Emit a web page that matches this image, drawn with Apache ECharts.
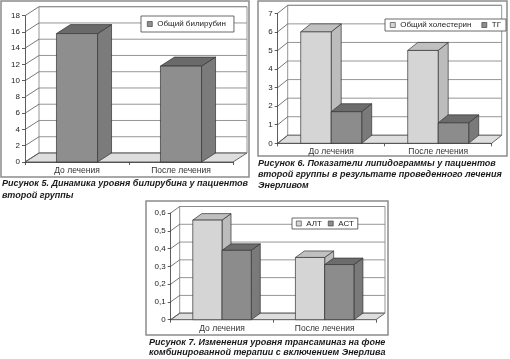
<!DOCTYPE html>
<html><head><meta charset="utf-8">
<script src="https://cdn.jsdelivr.net/npm/echarts@6/dist/echarts.min.js"></script>
<style>html,body{margin:0;padding:0;background:#fff}#c{width:510px;height:359px}</style>
</head><body><div id="c"></div>
<script>
// ---------- DATA ----------
const categories = ['До лечения', 'После лечения'];
// Figure 5
const bilirubinName = 'Общий билирубин';
const bilirubin = [15.8, 11.8];
const ticks1 = [0, 2, 4, 6, 8, 10, 12, 14, 16, 18];
// Figure 6
const cholName = 'Общий холестерин';
const chol = [6.0, 5.0];
const tgName = 'ТГ';
const tg = [1.7, 1.1];
const ticks2 = [0, 1, 2, 3, 4, 5, 6, 7];
// Figure 7
const altName = 'АЛТ';
const alt = [0.56, 0.35];
const astName = 'АСТ';
const ast = [0.39, 0.31];
const ticks3 = [0, 0.1, 0.2, 0.3, 0.4, 0.5, 0.6];
const captions = [
  'Рисунок 5. Динамика уровня билирубина у пациентов\nвторой группы',
  'Рисунок 6. Показатели липидограммы у пациентов\nвторой группы в результате проведенного лечения\nЭнерливом',
  'Рисунок 7. Изменения уровня трансаминаз на фоне\nкомбинированной терапии с включением Энерлива'
];

// ---------- STYLE ----------
const FONT = 'Liberation Sans, Arial, sans-serif';
const LIGHT = {front: '#d5d5d5', top: '#c0c0c0', side: '#bcbcbc'};
const DARK = {front: '#8c8c8c', top: '#6c6c6c', side: '#7a7a7a'};
const MID = {front: '#8e8e8e', top: '#6a6a6a', side: '#7b7b7b'};
const depths = [[14, -9], [10, -8], [9, -6.5]];

function barRender(depth, nSeries, sIdx, widthFrac, colors) {
  return function (params, api) {
    const cat = api.value(0), v = api.value(1);
    const base = api.coord([cat, 0]);
    const top = api.coord([cat, v]);
    const band = api.size([1, 0])[0];
    const w = band * widthFrac;
    const x0 = base[0] - w * nSeries / 2 + w * sIdx;
    const x1 = x0 + w;
    const yb = base[1], yt = top[1];
    const dx = depth[0], dy = depth[1];
    const st = {stroke: '#333', lineWidth: 0.7};
    return {type: 'group', children: [
      {type: 'polygon', shape: {points: [[x1, yb], [x1 + dx, yb + dy], [x1 + dx, yt + dy], [x1, yt]]}, style: Object.assign({fill: colors.side}, st)},
      {type: 'polygon', shape: {points: [[x0, yt], [x1, yt], [x1 + dx, yt + dy], [x0 + dx, yt + dy]]}, style: Object.assign({fill: colors.top}, st)},
      {type: 'rect', shape: {x: x0, y: yt, width: w, height: yb - yt}, style: Object.assign({fill: colors.front}, st)}
    ]};
  };
}

function wallRender(depth) {
  return function (params, api) {
    const cs = params.coordSys;
    const dx = depth[0], dy = depth[1];
    const v = api.value(1);
    const y = api.coord([0, v])[1];
    const xl = cs.x, xr = cs.x + cs.width, yt = cs.y, yb = cs.y + cs.height;
    const children = [];
    const grey = {stroke: '#8a8a8a', lineWidth: 0.9};
    if (params.dataIndex === 0) {
      children.push({type: 'rect', shape: {x: xl + dx, y: yt + dy, width: cs.width, height: cs.height}, style: {fill: '#fff', stroke: '#8a8a8a', lineWidth: 0.9}});
      children.push({type: 'polygon', shape: {points: [[xl, yb], [xr, yb], [xr + dx, yb + dy], [xl + dx, yb + dy]]}, style: {fill: '#dedede', stroke: '#444', lineWidth: 0.8}});
    }
    children.push({type: 'line', shape: {x1: xl + dx, y1: y + dy, x2: xr + dx, y2: y + dy}, style: grey});
    children.push({type: 'line', shape: {x1: xl, y1: y, x2: xl + dx, y2: y + dy}, style: {stroke: '#555', lineWidth: 0.8}});
    return {type: 'group', children: children};
  };
}

const grids = [
  {left: 25, top: 15.7, width: 208, height: 146.3},
  {left: 277.7, top: 13.3, width: 214, height: 130},
  {left: 170.7, top: 213, width: 205.3, height: 106.7}
];
const yMax = [18, 7, 0.6];
const yInt = [2, 1, 0.1];
const tickSets = [ticks1, ticks2, ticks3];

const xAxes = grids.map((g, i) => ({
  type: 'category', gridIndex: i, data: categories,
  axisLine: {lineStyle: {color: '#333', width: 0.8}},
  axisTick: {show: true, length: 3, lineStyle: {color: '#333', width: 0.8}},
  axisLabel: {fontSize: 8.5, color: '#333', fontFamily: FONT, margin: 4}
}));
const yAxes = grids.map((g, i) => ({
  type: 'value', gridIndex: i, min: 0, max: yMax[i], interval: yInt[i],
  axisLine: {show: true, lineStyle: {color: '#333', width: 0.8}},
  axisTick: {show: true, length: 3, lineStyle: {color: '#333', width: 0.8}},
  splitLine: {show: false},
  axisLabel: {fontSize: 8, color: '#222', fontFamily: FONT, margin: 5,
    formatter: i === 2 ? (v => v === 0 ? '0' : v.toFixed(1).replace('.', ',')) : (v => String(v))}
}));

const series = [];
tickSets.forEach((t, i) => {
  series.push({type: 'custom', xAxisIndex: i, yAxisIndex: i, z: 1, silent: true,
    renderItem: wallRender(depths[i]), data: t.map(v => [0, v])});
});
function barSeries(name, data, gi, n, idx, frac, colors) {
  return {type: 'custom', name: name, xAxisIndex: gi, yAxisIndex: gi, z: 3,
    itemStyle: {color: colors.front},
    renderItem: barRender(depths[gi], n, idx, frac, colors),
    data: data.map((v, k) => [k, v])};
}
series.push(barSeries(bilirubinName, bilirubin, 0, 1, 0, 0.395, MID));
series.push(barSeries(cholName, chol, 1, 2, 0, 0.285, LIGHT));
series.push(barSeries(tgName, tg, 1, 2, 1, 0.285, DARK));
series.push(barSeries(altName, alt, 2, 2, 0, 0.285, LIGHT));
series.push(barSeries(astName, ast, 2, 2, 1, 0.285, DARK));

function legendItem(name, colors) {
  return {name: name, icon: 'rect', itemStyle: {color: colors.front, borderColor: '#333', borderWidth: 0.6}};
}
const legBase = {selectedMode: false, orient: 'horizontal', itemWidth: 5, itemHeight: 5,
  backgroundColor: '#fff', borderColor: '#444', borderWidth: 0.8, z: 10,
  textStyle: {fontSize: 8, color: '#222', fontFamily: FONT}};
const legends = [
  Object.assign({}, legBase, {left: 141, top: 16, padding: [4, 8, 4, 6], data: [legendItem(bilirubinName, MID)]}),
  Object.assign({}, legBase, {left: 385, top: 19, padding: [2, 5], itemGap: 10, data: [legendItem(cholName, LIGHT), legendItem(tgName, DARK)]}),
  Object.assign({}, legBase, {left: 292, top: 218, padding: [1.5, 4], itemGap: 6, data: [legendItem(altName, LIGHT), legendItem(astName, DARK)]})
];

const capStyle = {fill: '#1a1a1a', font: 'italic bold 9px ' + FONT, lineHeight: 11};
const graphic = [
  {type: 'rect', shape: {x: 1, y: 1, width: 248, height: 176}, style: {fill: 'none', stroke: '#8c8c8c', lineWidth: 1.5}, z: -1},
  {type: 'rect', shape: {x: 258, y: 1, width: 249, height: 155}, style: {fill: 'none', stroke: '#8c8c8c', lineWidth: 1.5}, z: -1},
  {type: 'rect', shape: {x: 146, y: 201, width: 242, height: 134}, style: {fill: 'none', stroke: '#8c8c8c', lineWidth: 1.5}, z: -1},
  {type: 'text', left: 2, top: 178, style: Object.assign({text: captions[0]}, capStyle, {lineHeight: 11.5})},
  {type: 'text', left: 258, top: 158.5, style: Object.assign({text: captions[1]}, capStyle)},
  {type: 'text', left: 149, top: 338, style: Object.assign({text: captions[2]}, capStyle, {lineHeight: 10})}
];

const chart = echarts.init(document.getElementById('c'), null, {renderer: 'canvas'});
chart.setOption({
  animation: false,
  backgroundColor: '#fff',
  grid: grids.map(g => Object.assign({containLabel: false}, g)),
  xAxis: xAxes, yAxis: yAxes, legend: legends, series: series, graphic: graphic
});
</script></body></html>
